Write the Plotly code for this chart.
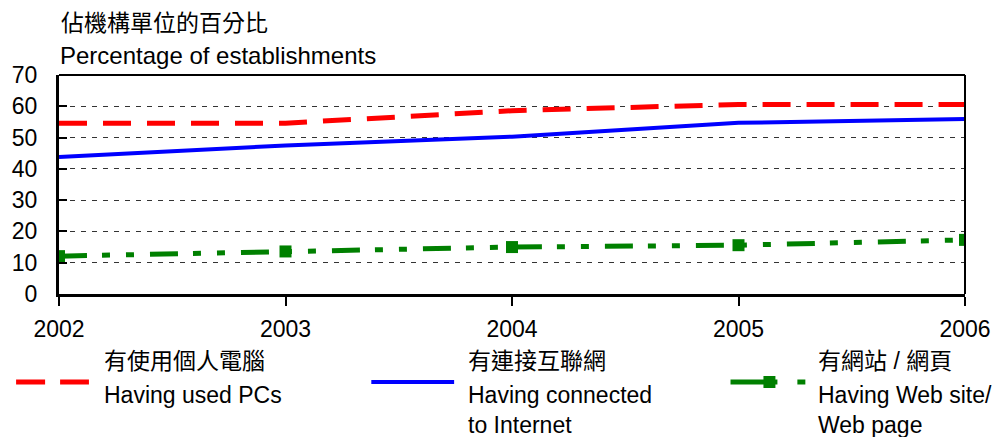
import plotly.graph_objects as go

years = [2002, 2003, 2004, 2005, 2006]
used_pcs = [54.6, 54.6, 58.6, 60.6, 60.6]
internet = [43.8, 47.5, 50.3, 54.7, 55.9]
website = [12.1, 13.6, 15.0, 15.6, 17.3]
y_ticks = [0, 10, 20, 30, 40, 50, 60, 70]

names_zh = ["有使用個人電腦", "有連接互聯網", "有網站 / 網頁"]
names_en = ["Having used PCs", "Having connected<br>to Internet", "Having Web site/<br>Web page"]

FONT = "Arial, 'Liberation Sans', 'Noto Sans CJK TC', sans-serif"
FS = 23

W, H = 1003, 437
L, R, T, B = 58, 966, 75, 294

def px(x):
    return (x - L) / (R - L)

def py(y):
    return (B - y) / (B - T)

fig = go.Figure()
fig.add_trace(go.Scatter(x=years, y=used_pcs, mode="lines", name=names_zh[0],
                         line=dict(color="#ff0000", width=5, dash="28px,16px")))
fig.add_trace(go.Scatter(x=years, y=internet, mode="lines", name=names_zh[1],
                         line=dict(color="#0000ff", width=4)))
fig.add_trace(go.Scatter(x=years, y=website, mode="lines+markers", name=names_zh[2],
                         line=dict(color="#008000", width=5, dash="28px,15px,8px,16px,8px,16px"),
                         marker=dict(symbol="square", size=12, color="#008000")))

shapes = []
# top and right frame
shapes.append(dict(type="line", xref="paper", yref="paper", x0=0, x1=1, y0=1, y1=1,
                   line=dict(color="#000", width=2)))
shapes.append(dict(type="line", xref="paper", yref="paper", x0=1, x1=1, y0=0, y1=1,
                   line=dict(color="#000", width=2)))
# legend symbols
ly = py(382)
shapes.append(dict(type="line", xref="paper", yref="paper", x0=px(15), x1=px(88), y0=ly, y1=ly,
                   line=dict(color="#ff0000", width=5, dash="29px,15px")))
shapes.append(dict(type="line", xref="paper", yref="paper", x0=px(371), x1=px(454), y0=ly, y1=ly,
                   line=dict(color="#0000ff", width=4)))
shapes.append(dict(type="line", xref="paper", yref="paper", x0=px(731), x1=px(778), y0=ly, y1=ly,
                   line=dict(color="#008000", width=5)))
shapes.append(dict(type="line", xref="paper", yref="paper", x0=px(798), x1=px(806), y0=ly, y1=ly,
                   line=dict(color="#008000", width=5)))
shapes.append(dict(type="rect", xref="paper", yref="paper", x0=px(764), x1=px(776),
                   y0=py(388), y1=py(376), line=dict(width=0), fillcolor="#008000"))
fig.update_layout(shapes=shapes)


def text_ann(text, x, y, yanchor="middle", size=FS):
    return dict(text=text, x=px(x), y=py(y), xref="paper", yref="paper",
                xanchor="left", yanchor=yanchor, showarrow=False, align="left",
                borderpad=0, font=dict(family=FONT, size=size, color="#000"))


ann = [
    text_ann("佔機構單位的百分比", 59, 23),
    text_ann("Percentage of establishments", 58, 55, size=24),
]
for xs, zh, en in zip([102, 467, 818], names_zh, names_en):
    ann.append(text_ann(zh, xs, 361))
    ann.append(text_ann(en, xs, 381, yanchor="top"))
fig.update_layout(annotations=ann)

fig.update_xaxes(range=[2002, 2006], tickvals=years, ticktext=[str(y) for y in years],
                 showline=True, linecolor="#000", linewidth=3, ticks="outside", ticklen=9,
                 tickwidth=2, tickcolor="#000", showgrid=False, zeroline=False,
                 ticklabelstandoff=3,
                 tickfont=dict(family=FONT, size=FS, color="#000"))
fig.update_yaxes(range=[0, 70], tickvals=y_ticks, showline=True, linecolor="#000", linewidth=3,
                 ticks="inside", ticklen=8, tickwidth=2, tickcolor="#000",
                 showgrid=True, gridcolor="#333", gridwidth=1, griddash="5px,6px",
                 zeroline=False, ticklabelstandoff=14,
                 tickfont=dict(family=FONT, size=FS, color="#000"))

fig.update_layout(width=W, height=H, showlegend=False,
                  margin=dict(l=L, r=W - R, t=T, b=H - B, pad=0),
                  plot_bgcolor="white", paper_bgcolor="white",
                  font=dict(family=FONT, size=FS, color="#000"))

fig.write_html("out.html", config={"displayModeBar": False},
               post_script="document.body.style.margin='0';document.body.style.overflow='hidden';")
